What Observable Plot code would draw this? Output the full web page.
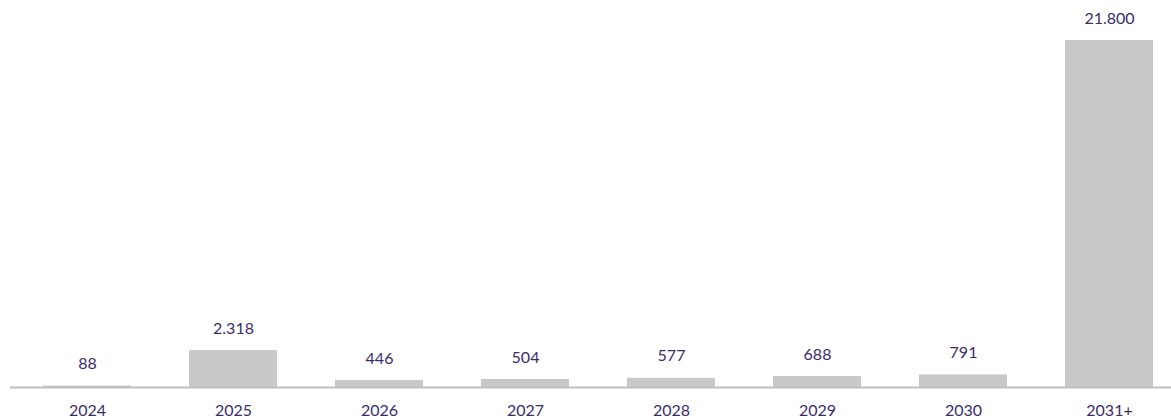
<!DOCTYPE html>
<html><head><meta charset="utf-8">
<script src="https://cdn.jsdelivr.net/npm/d3@7"></script>
<script src="https://cdn.jsdelivr.net/npm/@observablehq/plot@0.6"></script>
<style>body{margin:0;background:#fff;} svg{display:block;}</style>
</head><body><div id="chart"></div>
<script>
const years = ["2024","2025","2026","2027","2028","2029","2030","2031+"];
const values = [88, 2318, 446, 504, 577, 688, 791, 21800];
const data = years.map((y, i) => ({year: y, value: values[i]}));
const fmt = d3.formatLocale({decimal: ",", thousands: ".", grouping: [3], currency: ["", ""]}).format(",");
const textColor = "#3a2c6c";
const font = "Lato, 'Open Sans', sans-serif";
const chart = Plot.plot({
  width: 1171, height: 418,
  marginLeft: 10, marginRight: 0, marginTop: 40, marginBottom: 31,
  style: {fontFamily: font, background: "#fff"},
  x: {domain: years, range: [14, 1182], paddingInner: 0.4, paddingOuter: 0.2, label: null},
  y: {domain: [0, 21800], axis: null},
  marks: [
    Plot.barY(data, {x: "year", y: "value", fill: "#c8c8c8"}),
    Plot.ruleY([0], {stroke: "#bfbfbf", strokeWidth: 2}),
    Plot.text(data, {x: "year", y: "value", text: d => fmt(d.value), dy: -22, fill: textColor, fontSize: 16}),
    Plot.axisX({tickSize: 0, tickPadding: 17, fontSize: 16, color: textColor, label: null})
  ]
});
document.getElementById("chart").append(chart);
</script></body></html>
